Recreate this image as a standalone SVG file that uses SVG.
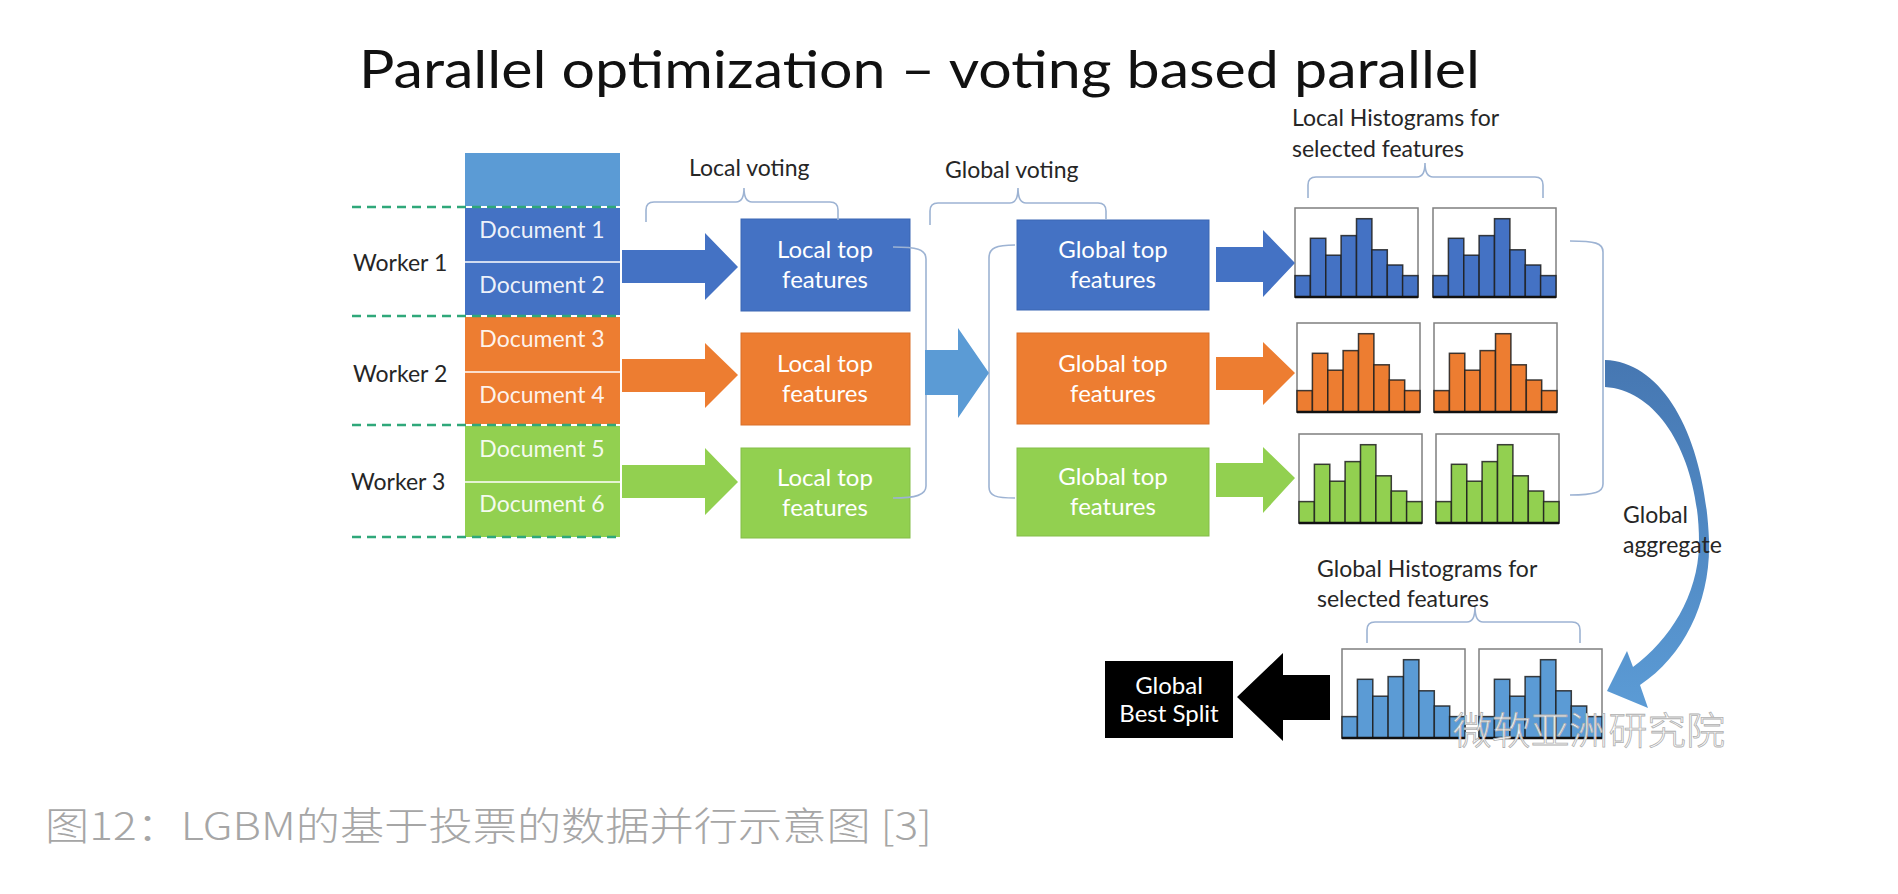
<svg xmlns="http://www.w3.org/2000/svg" xmlns:xlink="http://www.w3.org/1999/xlink" width="1898" height="894" viewBox="0 0 1898 894">
<style>
.t{font-family:Lato,"Open Sans","Liberation Sans",sans-serif;font-size:23px;fill:#262626}
.w{font-family:Lato,"Open Sans","Liberation Sans",sans-serif;font-size:24px;fill:#ffffff;text-anchor:middle}
.d{font-family:Lato,"Open Sans","Liberation Sans",sans-serif;font-size:23px;fill:#ffffff;fill-opacity:0.92;text-anchor:middle}
.brace{fill:none;stroke:#9DB3D3;stroke-width:1.6}
.dash{stroke:#2FA87A;stroke-width:2.5;stroke-dasharray:9 6}
.sep{stroke:#ffffff;stroke-width:1.6}
.blue{fill:#4472C4}
.orange{fill:#ED7D31}
.green{fill:#92D050}
.lblue{fill:#5B9BD5}
.bx{stroke-width:1}
</style>
<defs>
<g id="hist">
<rect x="0" y="0" width="123" height="89" fill="#ffffff" stroke="#7F7F7F" stroke-width="1.5"/>
<g stroke="#1E1E1E" stroke-width="1.5" stroke-opacity="0.85">
<rect x="0" y="67.6" width="15.4" height="21.4"/>
<rect x="15.4" y="30.3" width="15.4" height="58.7"/>
<rect x="30.8" y="47.2" width="15.4" height="41.8"/>
<rect x="46.1" y="27.6" width="15.4" height="61.4"/>
<rect x="61.5" y="10.7" width="15.4" height="78.3"/>
<rect x="76.9" y="41.8" width="15.4" height="47.2"/>
<rect x="92.3" y="57" width="15.4" height="32"/>
<rect x="107.6" y="67.6" width="15.4" height="21.4"/>
</g>
<line x1="0" y1="89" x2="123" y2="89" stroke="#111111" stroke-width="2.5"/>
</g>
<linearGradient id="curveGrad" x1="0" y1="0" x2="0" y2="1">
<stop offset="0" stop-color="#4677B2"/>
<stop offset="1" stop-color="#5B9BD5"/>
</linearGradient>
</defs>
<rect x="0" y="0" width="1898" height="894" fill="#ffffff"/>

<text x="359" y="88" font-family="Lato,'Open Sans','Liberation Sans',sans-serif" font-size="52" fill="#111111" textLength="1121" lengthAdjust="spacingAndGlyphs">Parallel optimization – voting based parallel</text>

<g id="data-column">
<rect x="465" y="153" width="155" height="54" class="lblue"/>
<rect x="465" y="207" width="155" height="109" class="blue"/>
<rect x="465" y="316" width="155" height="109" class="orange"/>
<rect x="465" y="425" width="155" height="112" class="green"/>
<line x1="465" y1="262" x2="620" y2="262" class="sep"/>
<line x1="465" y1="372" x2="620" y2="372" class="sep"/>
<line x1="465" y1="482" x2="620" y2="482" class="sep"/>
<line x1="465" y1="207" x2="620" y2="207" stroke="#ffffff" stroke-width="2"/>
<line x1="465" y1="316" x2="620" y2="316" stroke="#ffffff" stroke-width="2"/>
<line x1="465" y1="425" x2="620" y2="425" stroke="#ffffff" stroke-width="2"/>
</g>
<g id="doc1"><text x="542" y="238" class="d">Document 1</text></g>
<g id="doc2"><text x="542" y="293" class="d">Document 2</text></g>
<g id="doc3"><text x="542" y="347" class="d">Document 3</text></g>
<g id="doc4"><text x="542" y="403" class="d">Document 4</text></g>
<g id="doc5"><text x="542" y="457" class="d">Document 5</text></g>
<g id="doc6"><text x="542" y="512" class="d">Document 6</text></g>

<g id="worker-separators">
<line x1="352" y1="207" x2="620" y2="207" class="dash"/>
<line x1="352" y1="316" x2="620" y2="316" class="dash"/>
<line x1="352" y1="425" x2="620" y2="425" class="dash"/>
<line x1="352" y1="537" x2="620" y2="537" class="dash"/>
</g>
<g id="worker1"><text x="353" y="271" class="t">Worker 1</text></g>
<g id="worker2"><text x="353" y="382" class="t">Worker 2</text></g>
<g id="worker3"><text x="351" y="490" class="t">Worker 3</text></g>

<g id="local-top-1"><rect x="741" y="219" width="169" height="92" class="blue bx" stroke="#3B66B3"/><text x="825" y="258" class="w">Local top</text><text x="825" y="288" class="w">features</text></g>
<g id="local-top-2"><rect x="741" y="333" width="169" height="92" class="orange bx" stroke="#D9702A"/><text x="825" y="372" class="w">Local top</text><text x="825" y="402" class="w">features</text></g>
<g id="local-top-3"><rect x="741" y="448" width="169" height="90" class="green bx" stroke="#84BD48"/><text x="825" y="486" class="w">Local top</text><text x="825" y="516" class="w">features</text></g>

<g id="global-top-1"><rect x="1017" y="220" width="192" height="90" class="blue bx" stroke="#3B66B3"/><text x="1113" y="258" class="w">Global top</text><text x="1113" y="288" class="w">features</text></g>
<g id="global-top-2"><rect x="1017" y="333" width="192" height="91" class="orange bx" stroke="#D9702A"/><text x="1113" y="372" class="w">Global top</text><text x="1113" y="402" class="w">features</text></g>
<g id="global-top-3"><rect x="1017" y="448" width="192" height="88" class="green bx" stroke="#84BD48"/><text x="1113" y="485" class="w">Global top</text><text x="1113" y="515" class="w">features</text></g>

<g id="local-histograms">
<use xlink:href="#hist" href="#hist" x="1295" y="208" fill="#4472C4"/>
<use xlink:href="#hist" href="#hist" x="1433" y="208" fill="#4472C4"/>
<use xlink:href="#hist" href="#hist" x="1297" y="323" fill="#ED7D31"/>
<use xlink:href="#hist" href="#hist" x="1434" y="323" fill="#ED7D31"/>
<use xlink:href="#hist" href="#hist" x="1299" y="434" fill="#92D050"/>
<use xlink:href="#hist" href="#hist" x="1436" y="434" fill="#92D050"/>
</g>
<g id="global-histograms">
<use xlink:href="#hist" href="#hist" x="1342" y="649" fill="#5B9BD5"/>
<use xlink:href="#hist" href="#hist" x="1479" y="649" fill="#5B9BD5"/>
</g>

<g id="global-best-split"><rect x="1105" y="661" width="128" height="77" fill="#000000"/><text x="1169" y="694" class="w" font-size="23">Global</text><text x="1169" y="722" class="w" font-size="23">Best Split</text></g>

<g id="connectors">
<polygon class="blue" points="622,250 705,250 705,233 738,267 705,300 705,283 622,283"/>
<polygon class="orange" points="622,359 705,359 705,343 738,375 705,408 705,392 622,392"/>
<polygon class="green" points="622,465 705,465 705,448 738,482 705,515 705,498 622,498"/>
<polygon class="blue" points="1216,247 1263,247 1263,230 1295,263 1263,297 1263,282 1216,282"/>
<polygon class="orange" points="1216,357 1263,357 1263,342 1295,373 1263,405 1263,390 1216,390"/>
<polygon class="green" points="1216,463 1263,463 1263,447 1295,478 1263,513 1263,497 1216,497"/>
<path class="brace" d="M893,247 C916,247 926,249 926,259 L926,486 C926,495 916,498 893,498"/>
<path class="brace" d="M1015,245 C996,245 989,248 989,258 L989,487 C989,496 996,498 1015,498"/>
<polygon class="lblue" points="925,350 958,350 958,328 989,373 958,418 958,395 925,395"/>
<path class="brace" d="M646,222 L646,210 Q646,202 654,202 L736,202 Q744,202 744,188 Q744,202 752,202 L830,202 Q838,202 838,210 L838,220"/>
<path class="brace" d="M930,225 L930,211 Q930,203 938,203 L1010,203 Q1018,203 1018,188 Q1018,203 1026,203 L1098,203 Q1106,203 1106,211 L1106,220"/>
<path class="brace" d="M1308,198 L1308,185 Q1308,177 1316,177 L1417,177 Q1425,177 1425,163 Q1425,177 1433,177 L1535,177 Q1543,177 1543,185 L1543,198"/>
<path class="brace" d="M1570,241 C1595,241 1603,243 1603,252 L1603,484 C1603,492 1595,495 1570,495"/>
<path class="brace" d="M1367,643 L1367,630 Q1367,622 1375,622 L1467,622 Q1475,622 1475,607 Q1475,622 1483,622 L1572,622 Q1580,622 1580,630 L1580,643"/>
<path fill="url(#curveGrad)" d="M1605,360 C1665,362 1705,440 1709,540 C1711,600 1685,655 1640,685 L1648,708 L1607,691 L1627,651 L1633,667 C1670,640 1698,595 1699,545 C1700,460 1660,390 1605,387 Z"/>
<polygon fill="#000000" points="1330,675 1283,675 1283,653 1237,697 1283,741 1283,720 1330,720"/>
</g>

<g id="labels">
<text x="689" y="176" class="t">Local voting</text>
<text x="945" y="178" class="t">Global voting</text>
<text x="1292" y="126" class="t">Local Histograms for</text>
<text x="1292" y="157" class="t">selected features</text>
<text x="1623" y="523" class="t">Global</text>
<text x="1623" y="553" class="t">aggregate</text>
<text x="1317" y="577" class="t">Global Histograms for</text>
<text x="1317" y="607" class="t">selected features</text>
</g>

<text x="1453" y="744" font-family="'Noto Sans CJK SC',sans-serif" font-size="38" font-weight="300" fill="#ffffff" fill-opacity="0.95" stroke="#AFAFAF" stroke-width="0.8" textLength="272" lengthAdjust="spacingAndGlyphs">微软亚洲研究院</text>

<text x="45" y="840" font-family="'Noto Sans CJK SC','Noto Sans',sans-serif" font-size="39" font-weight="300" fill="#A6A6A6" textLength="887" lengthAdjust="spacingAndGlyphs">图12：LGBM的基于投票的数据并行示意图 [3]</text>
</svg>
